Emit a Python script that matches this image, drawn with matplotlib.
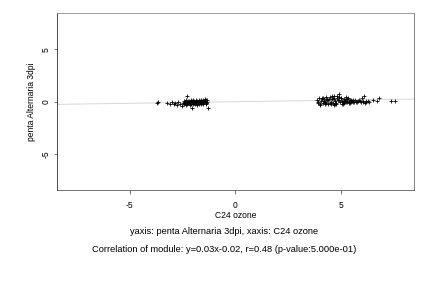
import numpy as np
import matplotlib.pyplot as plt

plt.rcParams['font.family'] = ['Liberation Sans', 'DejaVu Sans']

# C24 ozone (x) and penta Alternaria 3dpi (y)
x_left = [-3.70, -3.68, -3.25, -3.10, -3.02, -2.92, -2.85, -2.78, -2.70, -2.62,
          -2.55, -2.48, -2.45, -2.42, -2.40, -2.36, -2.33, -2.30, -2.28, -2.25,
          -2.22, -2.20, -2.17, -2.14, -2.12, -2.10, -2.07, -2.05, -2.02, -2.00,
          -1.97, -1.95, -1.92, -1.90, -1.87, -1.85, -1.82, -1.80, -1.77, -1.75,
          -1.72, -1.70, -1.67, -1.65, -1.62, -1.60, -1.57, -1.55, -1.52, -1.50,
          -1.47, -1.45, -1.42, -1.40, -1.38, -1.35, -1.33, -2.30, -2.05, -1.32,
          -2.38, -2.15, -1.98, -1.78, -1.58, -1.44, -2.26, -1.88, -1.66, -1.40]
y_left = [-0.18, -0.05, -0.12, -0.20, -0.08, -0.25, -0.15, -0.30, -0.06, -0.22,
          -0.40, -0.10, -0.28, 0.05, -0.18, -0.32, 0.10, -0.05, -0.25, 0.02,
          -0.15, 0.08, -0.30, -0.02, 0.12, -0.20, -0.08, 0.04, -0.28, 0.10,
          -0.12, 0.06, -0.25, -0.02, 0.14, -0.18, 0.05, -0.30, -0.06, 0.10,
          -0.22, 0.02, -0.14, 0.12, -0.26, 0.06, -0.10, 0.16, -0.20, 0.08,
          -0.04, 0.20, -0.16, 0.10, -0.24, 0.18, -0.05, 0.55, -0.62, -0.60,
          0.00, -0.05, -0.10, 0.00, -0.08, 0.02, -0.12, -0.15, -0.04, -0.10]
x_right = [3.85, 3.90, 3.95, 4.00, 4.05, 4.10, 4.15, 4.20, 4.25, 4.30,
           4.35, 4.40, 4.45, 4.50, 4.55, 4.60, 4.65, 4.70, 4.75, 4.80,
           4.85, 4.90, 4.95, 5.00, 5.05, 5.10, 5.15, 5.20, 5.25, 5.30,
           5.35, 5.40, 5.45, 5.50, 5.55, 5.60, 5.65, 5.70, 5.75, 5.80,
           5.85, 5.90, 5.95, 6.00, 6.05, 6.10, 6.15, 6.20, 6.25, 6.30,
           6.50, 6.70, 6.78, 7.35, 7.55, 4.02, 4.18, 4.33, 4.48, 4.62,
           4.78, 4.92, 5.08, 5.22, 5.38, 4.12, 4.28, 4.42, 4.58, 4.72,
           4.88, 5.02, 5.18, 5.32, 5.48, 3.92, 4.08, 4.22, 4.38, 4.52,
           4.68, 4.82, 4.98, 5.12, 5.28, 5.42, 5.58, 6.02, 6.18, 4.65]
y_right = [0.15, -0.10, 0.30, -0.20, 0.05, 0.35, -0.15, 0.20, -0.05, 0.40,
           0.10, -0.25, 0.45, 0.00, 0.25, -0.12, 0.50, 0.08, -0.18, 0.30,
           0.12, 0.72, -0.08, 0.38, 0.02, -0.20, 0.28, 0.10, -0.06, 0.22,
           0.05, -0.10, 0.18, 0.02, 0.12, -0.04, 0.10, 0.00, -0.06, 0.08,
           0.10, 0.02, -0.05, 0.30, 0.04, 0.55, -0.10, 0.05, 0.02, -0.02,
           0.10, 0.05, 0.35, 0.08, 0.08, -0.30, 0.05, 0.20, -0.12, 0.35,
           -0.25, 0.15, 0.00, 0.42, -0.18, 0.38, -0.15, 0.22, 0.48, -0.22,
           0.40, -0.28, 0.08, 0.30, -0.02, 0.00, 0.25, -0.28, 0.10, -0.22,
           0.20, 0.55, 0.30, -0.15, -0.02, 0.12, 0.00, -0.05, 0.00, -0.35]

slope = 0.03
intercept = -0.02
lim = 8.45

fig = plt.figure(figsize=(6, 4), dpi=72)
ax = fig.add_axes([57 / 432, 1 - 190 / 288, 357 / 432, 177 / 288])

line_x = np.array([-lim, lim])
ax.plot(line_x, slope * line_x + intercept, color='#d4d4d4', linewidth=0.9, zorder=1)

ax.scatter(x_left + x_right, y_left + y_right, marker='+', color='black',
           s=14, linewidths=0.8, zorder=3)

ax.set_xlim(-lim, lim)
ax.set_ylim(-lim, lim)
ax.set_xticks([-5, 0, 5])
ax.set_yticks([-5, 0, 5])
ax.set_xticklabels(['-5', '0', '5'], fontsize=8.5)
ax.set_yticklabels(['-5', '0', '5'], fontsize=8.5, rotation=90, va='center')
ax.tick_params(length=3.5, width=0.7, color='#444444')
ax.tick_params(axis='x', pad=7)
ax.tick_params(axis='y', pad=3)

for side in ['left', 'bottom', 'top', 'right']:
    ax.spines[side].set_linewidth(0.8)
ax.spines['left'].set_color('#222222')
ax.spines['bottom'].set_color('#555555')
ax.spines['top'].set_color('#888888')
ax.spines['right'].set_color('#666666')

ax.set_xlabel('C24 ozone', fontsize=8.5, labelpad=1)
ax.set_ylabel('penta Alternaria 3dpi', fontsize=8.5, labelpad=5)

fig.text(224 / 432, 1 - 232 / 288, 'yaxis: penta Alternaria 3dpi, xaxis: C24 ozone',
         ha='center', va='center', fontsize=9.3)
fig.text(224 / 432, 1 - 249 / 288,
         'Correlation of module: y=0.03x-0.02, r=0.48 (p-value:5.000e-01)',
         ha='center', va='center', fontsize=9.3)

fig.savefig('out.png', dpi=72)
